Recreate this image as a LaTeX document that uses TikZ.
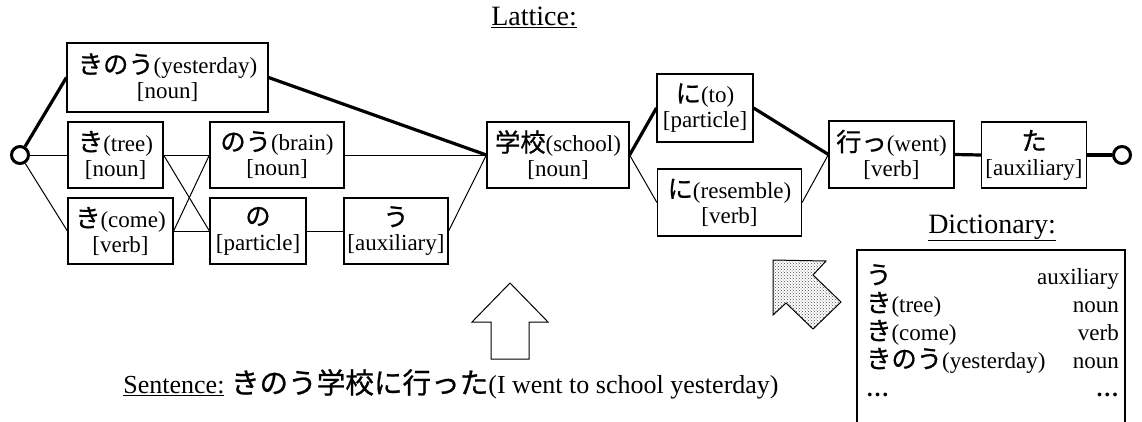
\documentclass[tikz,border=0pt]{standalone}
\usepackage{fontspec}
\setmainfont{Liberation Serif}
\newfontfamily\jfont[Scale=1.1,FakeBold=0.8]{Noto Sans CJK JP}
\usetikzlibrary{shapes,patterns}

\tikzset{
  word/.style={rectangle,draw,line width=1.2pt,inner sep=0pt,align=center,
    font=\fontsize{23}{25}\selectfont},
  bd/.style={line width=3.2pt},
  thin/.style={line width=1pt},
  ends/.style={circle,draw,line width=3pt,minimum size=17pt,inner sep=0pt},
  head/.style={font=\fontsize{28}{30}\selectfont},
  dict/.style={font=\fontsize{23}{25}\selectfont,inner sep=0pt,text height=17pt,text depth=5pt}
}

\begin{document}
\begin{tikzpicture}[x=1pt,y=-1pt]
                \useasboundingbox (0,0) rectangle (1142,421);
                \node[head] (lat) at (534,17) {\underline{Lattice:}};
                \node[ends] (bos) at (20,155) {};
                \node[word,minimum width=201pt,minimum height=69pt] (kinou) at (167.5,77.5) {{\jfont きのう}(yesterday)\\{[noun]}};
                \node[word,minimum width=95pt,minimum height=66pt] (ki1) at (115.5,155) {{\jfont き}(tree)\\{[noun]}};
                \node[word,minimum width=134pt,minimum height=66pt] (nou) at (277,155) {{\jfont のう}(brain)\\{[noun]}};
                \node[word,minimum width=105pt,minimum height=66pt] (ki2) at (120.5,231) {{\jfont き}(come)\\{[verb]}};
                \node[word,minimum width=96pt,minimum height=66pt] (no) at (258,231) {{\jfont の}\\{[particle]}};
                \node[word,minimum width=104pt,minimum height=66pt] (u) at (396,231) {{\jfont う}\\{[auxiliary]}};
                \node[word,minimum width=142pt,minimum height=66pt] (gakkou) at (558,155) {{\jfont 学校}(school)\\{[noun]}};
                \node[word,minimum width=96pt,minimum height=68pt] (ni1) at (705,108) {{\jfont に}(to)\\{[particle]}};
                \node[word,minimum width=144pt,minimum height=67pt] (ni2) at (729.5,202.5) {{\jfont に}(resemble)\\{[verb]}};
                \node[word,minimum width=125pt,minimum height=67pt] (it) at (891.5,154.5) {{\jfont 行っ}(went)\\{[verb]}};
                \node[word,minimum width=105pt,minimum height=66pt] (ta) at (1034,155) {{\jfont た}\\{[auxiliary]}};
                \node[ends] (eos) at (1122,155) {};
                \draw[bd] (bos) -- (kinou.west);
                \draw[thin] (bos) -- (ki1.west);
                \draw[thin] (bos) -- (ki2.west);
                \draw[bd] (kinou.east) -- (gakkou.west);
                \draw[thin] (ki1.east) -- (nou.west);
                \draw[thin] (ki1.east) -- (no.west);
                \draw[thin] (ki2.east) -- (nou.west);
                \draw[thin] (ki2.east) -- (no.west);
                \draw[thin] (no.east) -- (u.west);
                \draw[thin] (nou.east) -- (gakkou.west);
                \draw[thin] (u.east) -- (gakkou.west);
                \draw[bd] (gakkou.east) -- (ni1.west);
                \draw[thin] (gakkou.east) -- (ni2.west);
                \draw[bd] (ni1.east) -- (it.west);
                \draw[thin] (ni2.east) -- (it.west);
                \draw[bd] (it.east) -- (ta.west);
                \draw[bd] (ta.east) -- (eos);
                \draw[line width=1pt] (510,283) -- (548,322) -- (529,322) -- (529,359) -- (491,359) -- (491,322) -- (472,322) -- cycle;
                \draw[line width=1pt,pattern=crosshatch dots,pattern color=black!70] (773,260) -- (826,261) -- (813,275) -- (841,302) -- (813,329) -- (786,303) -- (773,315) -- cycle;
                \node[head,font=\fontsize{26}{30}\selectfont] (sent) at (451,384) {\underline{Sentence:} {\jfont きのう学校に行った}(I went to school yesterday)};
                \node[head] (dic) at (992,228) {\underline{Dictionary:}};
                \draw[line width=1.2pt] (857,430) |- (1125,250) -- (1125,430);
                \foreach \l/\r [count=\i] in {{\jfont う}/auxiliary,{\jfont き}(tree)/noun,{\jfont き}(come)/verb,{\jfont きのう}(yesterday)/noun,\textbf{\ldots}/\textbf{\ldots}}
                  {\node[dict,anchor=west] (dl\i) at (866,250+28*\i) {\l};
                   \node[dict,anchor=east] (dr\i) at (1119,250+28*\i) {\r};}
            \end{tikzpicture}
\end{document}
